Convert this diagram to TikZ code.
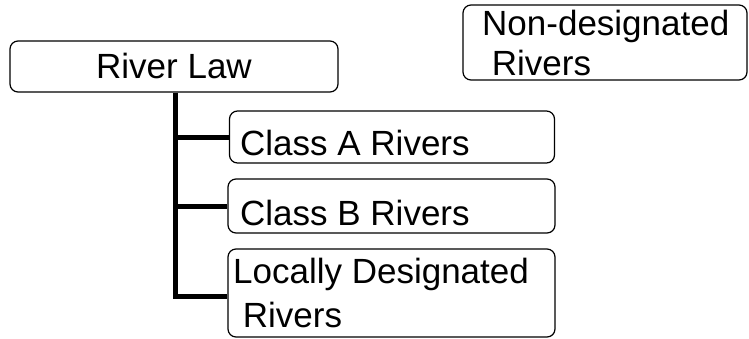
\documentclass[tikz,border=0pt]{standalone}
\usepackage{fontspec}
\setmainfont{Liberation Sans}
\begin{document}
\begin{tikzpicture}[x=1pt,y=-1pt,
  box/.style={draw=black,line width=1.2pt,rounded corners=8pt,inner sep=0pt},
  lbl/.style={inner sep=0pt,anchor=base west,font=\fontsize{35}{40}\selectfont},
  trunk/.style={line width=5pt,line join=miter}]
\useasboundingbox (0,0) rectangle (749,338);
\node[box,minimum width=328pt,minimum height=51pt] (RL) at (174,66.5) {};
\node[box,minimum width=284pt,minimum height=75pt] (ND) at (605,42.5) {};
\node[box,minimum width=325pt,minimum height=52pt] (CA) at (392,137) {};
\node[box,minimum width=327pt,minimum height=54pt] (CB) at (391.5,206) {};
\node[box,minimum width=327pt,minimum height=88pt] (LD) at (391.5,293) {};
\node[lbl,anchor=base] (tRL) at (174,78) {River Law};
\node[lbl] (tND1) at (482,35) {Non-designated};
\node[lbl] (tND2) at (482,75) {\ Rivers};
\node[lbl] (tCA) at (240,155) {Class A Rivers};
\node[lbl] (tCB) at (240,225) {Class B Rivers};
\node[lbl] (tLD1) at (233,283) {Locally Designated};
\node[lbl] (tLD2) at (233,327) {\ Rivers};
\coordinate (bend) at (175,296);
\draw[trunk] (RL.south -| bend) -- (bend) -- (bend -| LD.west);
\draw[trunk] (bend |- CA.west) -- (CA.west);
\draw[trunk] (bend |- CB.west) -- (CB.west);
\end{tikzpicture}
\end{document}
